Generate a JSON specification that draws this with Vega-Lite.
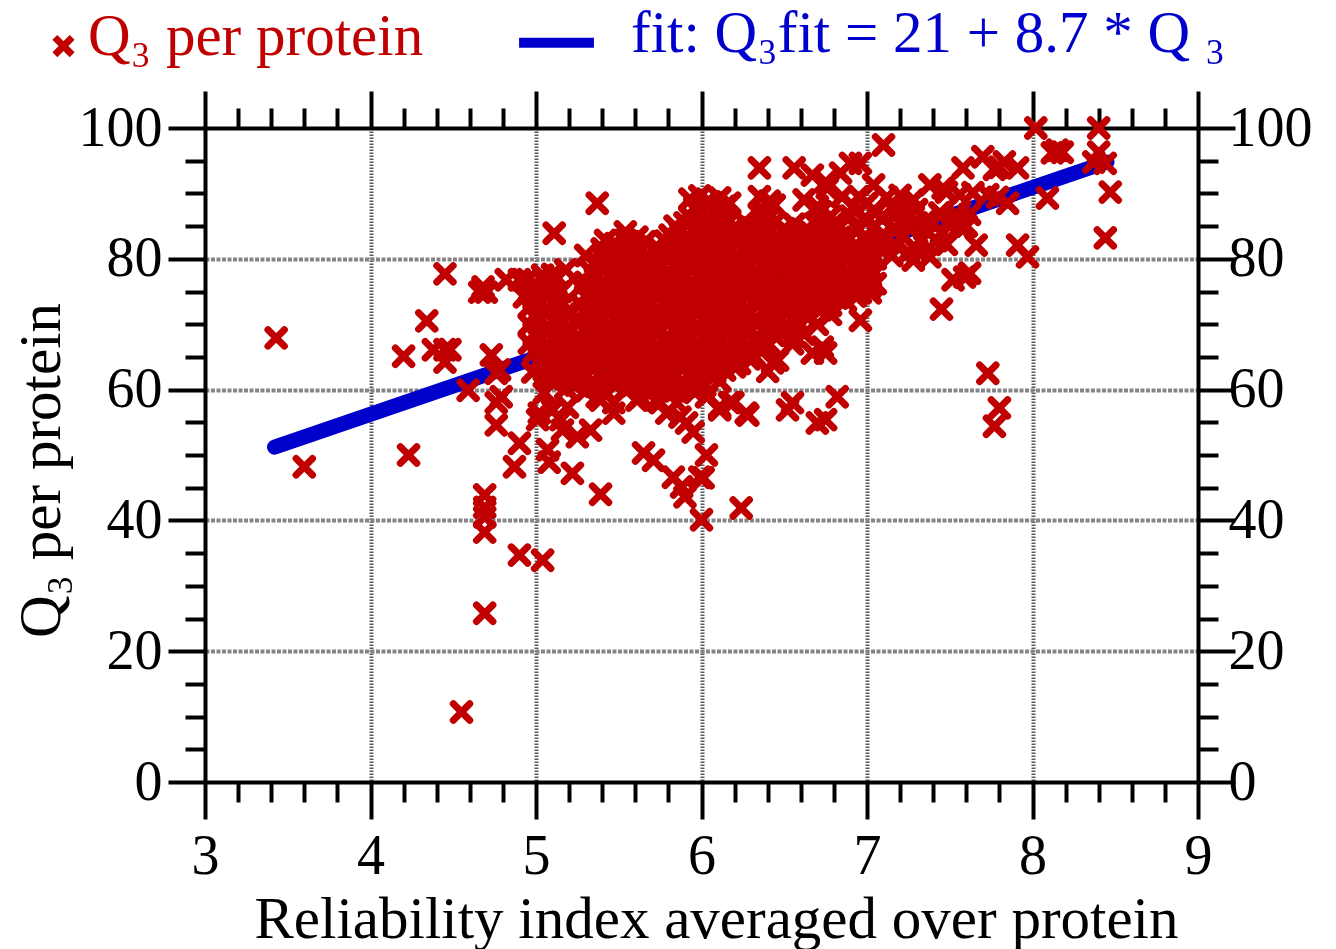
{
  "$schema": "https://vega.github.io/schema/vega-lite/v6.json",
  "autosize": "none",
  "width": 993,
  "height": 654,
  "padding": {"left": 205, "top": 128, "right": 138, "bottom": 167},
  "background": "white",
  "config": {"view": {"stroke": null}, "font": "Liberation Serif"},
  "datasets": {
    "fit": [{"ri": 3.42, "q3": 51.2}, {"ri": 8.45, "q3": 94.8}],
    "pts": [
      {"ri":5.93,"q3":89.1},{"ri":5.99,"q3":89.6},{"ri":6.05,"q3":88.7},{"ri":6.11,"q3":89.3},{"ri":6.17,"q3":88.5},{"ri":6.35,"q3":89.5},{"ri":6.41,"q3":88.8},
      {"ri":5.96,"q3":87.8},{"ri":6.02,"q3":88.3},{"ri":6.08,"q3":87.4},{"ri":6.14,"q3":88.0},{"ri":6.38,"q3":87.2},{"ri":6.44,"q3":88.2},
      {"ri":5.93,"q3":86.4},{"ri":5.99,"q3":86.9},{"ri":6.05,"q3":86.0},{"ri":6.11,"q3":86.6},{"ri":6.17,"q3":85.8},{"ri":6.35,"q3":86.8},{"ri":6.41,"q3":86.3},{"ri":6.72,"q3":87.2},{"ri":6.78,"q3":86.5},
      {"ri":5.84,"q3":85.0},{"ri":5.90,"q3":85.5},{"ri":5.96,"q3":84.6},{"ri":6.02,"q3":85.3},{"ri":6.08,"q3":84.4},{"ri":6.14,"q3":85.4},{"ri":6.20,"q3":84.8},{"ri":6.26,"q3":85.6},{"ri":6.32,"q3":84.7},{"ri":6.38,"q3":85.0},{"ri":6.44,"q3":85.5},{"ri":6.50,"q3":84.6},{"ri":6.56,"q3":85.3},{"ri":6.63,"q3":84.4},{"ri":6.69,"q3":85.4},{"ri":6.75,"q3":84.8},{"ri":6.81,"q3":85.6},
      {"ri":5.81,"q3":83.6},{"ri":5.87,"q3":84.1},{"ri":5.93,"q3":83.2},{"ri":5.99,"q3":83.9},{"ri":6.05,"q3":83.0},{"ri":6.11,"q3":84.0},{"ri":6.17,"q3":83.4},{"ri":6.23,"q3":84.2},{"ri":6.29,"q3":83.3},{"ri":6.35,"q3":83.6},{"ri":6.41,"q3":84.1},{"ri":6.47,"q3":83.2},{"ri":6.53,"q3":83.9},{"ri":6.60,"q3":83.0},{"ri":6.66,"q3":84.0},{"ri":6.72,"q3":83.4},{"ri":6.78,"q3":84.2},{"ri":6.84,"q3":83.3},
      {"ri":5.48,"q3":82.3},{"ri":5.54,"q3":82.8},{"ri":5.60,"q3":81.9},{"ri":5.66,"q3":82.6},{"ri":5.72,"q3":81.7},{"ri":5.78,"q3":82.7},{"ri":5.84,"q3":82.1},{"ri":5.90,"q3":82.9},{"ri":5.96,"q3":82.0},{"ri":6.02,"q3":82.3},{"ri":6.08,"q3":82.8},{"ri":6.14,"q3":81.9},{"ri":6.20,"q3":82.6},{"ri":6.26,"q3":81.7},{"ri":6.32,"q3":82.7},{"ri":6.38,"q3":82.1},{"ri":6.44,"q3":82.9},{"ri":6.50,"q3":82.0},{"ri":6.56,"q3":82.3},{"ri":6.63,"q3":82.8},{"ri":6.69,"q3":81.9},{"ri":6.75,"q3":82.6},{"ri":6.81,"q3":81.7},{"ri":6.87,"q3":82.7},{"ri":6.93,"q3":82.1},
      {"ri":5.45,"q3":80.9},{"ri":5.51,"q3":81.4},{"ri":5.57,"q3":80.5},{"ri":5.63,"q3":81.2},{"ri":5.69,"q3":80.3},{"ri":5.75,"q3":81.3},{"ri":5.81,"q3":80.7},{"ri":5.87,"q3":81.5},{"ri":5.93,"q3":80.6},{"ri":5.99,"q3":80.9},{"ri":6.05,"q3":81.4},{"ri":6.11,"q3":80.5},{"ri":6.17,"q3":81.2},{"ri":6.23,"q3":80.3},{"ri":6.29,"q3":81.3},{"ri":6.35,"q3":80.7},{"ri":6.41,"q3":81.5},{"ri":6.47,"q3":80.6},{"ri":6.53,"q3":80.9},{"ri":6.60,"q3":81.4},{"ri":6.66,"q3":80.5},{"ri":6.72,"q3":81.2},{"ri":6.78,"q3":80.3},{"ri":6.84,"q3":81.3},{"ri":6.90,"q3":80.7},{"ri":6.96,"q3":81.5},{"ri":7.02,"q3":80.6},
      {"ri":5.36,"q3":79.5},{"ri":5.42,"q3":80.0},{"ri":5.48,"q3":79.1},{"ri":5.54,"q3":79.8},{"ri":5.60,"q3":78.9},{"ri":5.66,"q3":79.9},{"ri":5.72,"q3":79.3},{"ri":5.78,"q3":80.1},{"ri":5.84,"q3":79.2},{"ri":5.90,"q3":79.5},{"ri":5.96,"q3":80.0},{"ri":6.02,"q3":79.1},{"ri":6.08,"q3":79.8},{"ri":6.14,"q3":78.9},{"ri":6.20,"q3":79.9},{"ri":6.26,"q3":79.3},{"ri":6.32,"q3":80.1},{"ri":6.38,"q3":79.2},{"ri":6.44,"q3":79.5},{"ri":6.50,"q3":80.0},{"ri":6.56,"q3":79.1},{"ri":6.63,"q3":79.8},{"ri":6.69,"q3":78.9},{"ri":6.75,"q3":79.9},{"ri":6.81,"q3":79.3},{"ri":6.87,"q3":80.1},{"ri":6.93,"q3":79.2},{"ri":6.99,"q3":79.5},{"ri":7.05,"q3":80.0},
      {"ri":5.33,"q3":78.1},{"ri":5.39,"q3":78.6},{"ri":5.45,"q3":77.7},{"ri":5.51,"q3":78.4},{"ri":5.57,"q3":77.5},{"ri":5.63,"q3":78.5},{"ri":5.69,"q3":77.9},{"ri":5.75,"q3":78.7},{"ri":5.81,"q3":77.8},{"ri":5.87,"q3":78.1},{"ri":5.93,"q3":78.6},{"ri":5.99,"q3":77.7},{"ri":6.05,"q3":78.4},{"ri":6.11,"q3":77.5},{"ri":6.17,"q3":78.5},{"ri":6.23,"q3":77.9},{"ri":6.29,"q3":78.7},{"ri":6.35,"q3":77.8},{"ri":6.41,"q3":78.1},{"ri":6.47,"q3":78.6},{"ri":6.53,"q3":77.7},{"ri":6.60,"q3":78.4},{"ri":6.66,"q3":77.5},{"ri":6.72,"q3":78.5},{"ri":6.78,"q3":77.9},{"ri":6.84,"q3":78.7},{"ri":6.90,"q3":77.8},{"ri":6.96,"q3":78.1},{"ri":7.02,"q3":78.6},
      {"ri":5.05,"q3":76.8},{"ri":5.12,"q3":77.3},{"ri":5.30,"q3":76.4},{"ri":5.36,"q3":77.1},{"ri":5.42,"q3":76.2},{"ri":5.48,"q3":77.2},{"ri":5.54,"q3":76.6},{"ri":5.60,"q3":77.4},{"ri":5.66,"q3":76.5},{"ri":5.72,"q3":76.8},{"ri":5.78,"q3":77.3},{"ri":5.84,"q3":76.4},{"ri":5.90,"q3":77.1},{"ri":5.96,"q3":76.2},{"ri":6.02,"q3":77.2},{"ri":6.08,"q3":76.6},{"ri":6.14,"q3":77.4},{"ri":6.20,"q3":76.5},{"ri":6.26,"q3":76.8},{"ri":6.32,"q3":77.3},{"ri":6.38,"q3":76.4},{"ri":6.44,"q3":77.1},{"ri":6.50,"q3":76.2},{"ri":6.56,"q3":77.2},{"ri":6.63,"q3":76.6},{"ri":6.69,"q3":77.4},{"ri":6.75,"q3":76.5},{"ri":6.81,"q3":76.8},{"ri":6.87,"q3":77.3},{"ri":6.93,"q3":76.4},{"ri":6.99,"q3":77.1},{"ri":7.05,"q3":76.2},
      {"ri":5.02,"q3":75.4},{"ri":5.08,"q3":75.9},{"ri":5.15,"q3":75.0},{"ri":5.27,"q3":75.7},{"ri":5.33,"q3":74.8},{"ri":5.39,"q3":75.8},{"ri":5.45,"q3":75.2},{"ri":5.51,"q3":76.0},{"ri":5.57,"q3":75.1},{"ri":5.63,"q3":75.4},{"ri":5.69,"q3":75.9},{"ri":5.75,"q3":75.0},{"ri":5.81,"q3":75.7},{"ri":5.87,"q3":74.8},{"ri":5.93,"q3":75.8},{"ri":5.99,"q3":75.2},{"ri":6.05,"q3":76.0},{"ri":6.11,"q3":75.1},{"ri":6.17,"q3":75.4},{"ri":6.23,"q3":75.9},{"ri":6.29,"q3":75.0},{"ri":6.35,"q3":75.7},{"ri":6.41,"q3":74.8},{"ri":6.47,"q3":75.8},{"ri":6.53,"q3":75.2},{"ri":6.60,"q3":76.0},{"ri":6.66,"q3":75.1},{"ri":6.72,"q3":75.4},{"ri":6.78,"q3":75.9},{"ri":6.84,"q3":75.0},{"ri":6.90,"q3":75.7},{"ri":6.96,"q3":74.8},{"ri":7.02,"q3":75.8},
      {"ri":4.99,"q3":74.0},{"ri":5.05,"q3":74.5},{"ri":5.12,"q3":73.6},{"ri":5.30,"q3":74.3},{"ri":5.36,"q3":73.4},{"ri":5.42,"q3":74.4},{"ri":5.48,"q3":73.8},{"ri":5.54,"q3":74.6},{"ri":5.60,"q3":73.7},{"ri":5.66,"q3":74.0},{"ri":5.72,"q3":74.5},{"ri":5.78,"q3":73.6},{"ri":5.84,"q3":74.3},{"ri":5.90,"q3":73.4},{"ri":5.96,"q3":74.4},{"ri":6.02,"q3":73.8},{"ri":6.08,"q3":74.6},{"ri":6.14,"q3":73.7},{"ri":6.20,"q3":74.0},{"ri":6.26,"q3":74.5},{"ri":6.32,"q3":73.6},{"ri":6.38,"q3":74.3},{"ri":6.44,"q3":73.4},{"ri":6.50,"q3":74.4},{"ri":6.56,"q3":73.8},{"ri":6.63,"q3":74.6},{"ri":6.69,"q3":73.7},{"ri":6.75,"q3":74.0},{"ri":6.81,"q3":74.5},{"ri":6.87,"q3":73.6},{"ri":6.93,"q3":74.3},
      {"ri":4.96,"q3":72.6},{"ri":5.02,"q3":73.1},{"ri":5.08,"q3":72.2},{"ri":5.15,"q3":72.9},{"ri":5.21,"q3":72.0},{"ri":5.27,"q3":73.0},{"ri":5.33,"q3":72.4},{"ri":5.39,"q3":73.2},{"ri":5.45,"q3":72.3},{"ri":5.51,"q3":72.6},{"ri":5.57,"q3":73.1},{"ri":5.63,"q3":72.2},{"ri":5.69,"q3":72.9},{"ri":5.75,"q3":72.0},{"ri":5.81,"q3":73.0},{"ri":5.87,"q3":72.4},{"ri":5.93,"q3":73.2},{"ri":5.99,"q3":72.3},{"ri":6.05,"q3":72.6},{"ri":6.11,"q3":73.1},{"ri":6.17,"q3":72.2},{"ri":6.23,"q3":72.9},{"ri":6.29,"q3":72.0},{"ri":6.35,"q3":73.0},{"ri":6.41,"q3":72.4},{"ri":6.47,"q3":73.2},{"ri":6.53,"q3":72.3},{"ri":6.60,"q3":72.6},{"ri":6.66,"q3":73.1},{"ri":6.72,"q3":72.2},{"ri":6.78,"q3":72.9},
      {"ri":4.99,"q3":71.3},{"ri":5.05,"q3":71.8},{"ri":5.12,"q3":70.9},{"ri":5.18,"q3":71.6},{"ri":5.24,"q3":70.7},{"ri":5.30,"q3":71.7},{"ri":5.36,"q3":71.1},{"ri":5.42,"q3":71.9},{"ri":5.48,"q3":71.0},{"ri":5.54,"q3":71.3},{"ri":5.60,"q3":71.8},{"ri":5.66,"q3":70.9},{"ri":5.72,"q3":71.6},{"ri":5.78,"q3":70.7},{"ri":5.84,"q3":71.7},{"ri":5.90,"q3":71.1},{"ri":5.96,"q3":71.9},{"ri":6.02,"q3":71.0},{"ri":6.08,"q3":71.3},{"ri":6.14,"q3":71.8},{"ri":6.20,"q3":70.9},{"ri":6.26,"q3":71.6},{"ri":6.32,"q3":70.7},{"ri":6.38,"q3":71.7},{"ri":6.44,"q3":71.1},{"ri":6.50,"q3":71.9},{"ri":6.56,"q3":71.0},{"ri":6.63,"q3":71.3},
      {"ri":4.96,"q3":69.9},{"ri":5.02,"q3":70.4},{"ri":5.08,"q3":69.5},{"ri":5.15,"q3":70.2},{"ri":5.21,"q3":69.3},{"ri":5.27,"q3":70.3},{"ri":5.33,"q3":69.7},{"ri":5.39,"q3":70.5},{"ri":5.45,"q3":69.6},{"ri":5.51,"q3":69.9},{"ri":5.57,"q3":70.4},{"ri":5.63,"q3":69.5},{"ri":5.69,"q3":70.2},{"ri":5.75,"q3":69.3},{"ri":5.81,"q3":70.3},{"ri":5.87,"q3":69.7},{"ri":5.93,"q3":70.5},{"ri":5.99,"q3":69.6},{"ri":6.05,"q3":69.9},{"ri":6.11,"q3":70.4},{"ri":6.17,"q3":69.5},{"ri":6.23,"q3":70.2},{"ri":6.29,"q3":69.3},{"ri":6.35,"q3":70.3},{"ri":6.41,"q3":69.7},{"ri":6.47,"q3":70.5},{"ri":6.53,"q3":69.6},{"ri":6.60,"q3":69.9},
      {"ri":4.99,"q3":68.5},{"ri":5.05,"q3":69.0},{"ri":5.12,"q3":68.1},{"ri":5.18,"q3":68.8},{"ri":5.24,"q3":67.9},{"ri":5.30,"q3":68.9},{"ri":5.36,"q3":68.3},{"ri":5.42,"q3":69.1},{"ri":5.48,"q3":68.2},{"ri":5.54,"q3":68.5},{"ri":5.60,"q3":69.0},{"ri":5.66,"q3":68.1},{"ri":5.72,"q3":68.8},{"ri":5.78,"q3":67.9},{"ri":5.84,"q3":68.9},{"ri":5.90,"q3":68.3},{"ri":5.96,"q3":69.1},{"ri":6.02,"q3":68.2},{"ri":6.08,"q3":68.5},{"ri":6.14,"q3":69.0},{"ri":6.20,"q3":68.1},{"ri":6.26,"q3":68.8},{"ri":6.32,"q3":67.9},{"ri":6.38,"q3":68.9},{"ri":6.44,"q3":68.3},{"ri":6.50,"q3":69.1},{"ri":6.56,"q3":68.2},
      {"ri":4.96,"q3":67.1},{"ri":5.02,"q3":67.6},{"ri":5.08,"q3":66.7},{"ri":5.15,"q3":67.4},{"ri":5.21,"q3":66.5},{"ri":5.27,"q3":67.5},{"ri":5.33,"q3":66.9},{"ri":5.39,"q3":67.7},{"ri":5.45,"q3":66.8},{"ri":5.51,"q3":67.1},{"ri":5.57,"q3":67.6},{"ri":5.63,"q3":66.7},{"ri":5.69,"q3":67.4},{"ri":5.75,"q3":66.5},{"ri":5.81,"q3":67.5},{"ri":5.87,"q3":66.9},{"ri":5.93,"q3":67.7},{"ri":5.99,"q3":66.8},{"ri":6.05,"q3":67.1},{"ri":6.11,"q3":67.6},{"ri":6.17,"q3":66.7},{"ri":6.23,"q3":67.4},{"ri":6.29,"q3":66.5},{"ri":6.35,"q3":67.5},{"ri":6.41,"q3":66.9},
      {"ri":4.99,"q3":65.7},{"ri":5.05,"q3":66.2},{"ri":5.12,"q3":65.3},{"ri":5.18,"q3":66.0},{"ri":5.24,"q3":65.1},{"ri":5.30,"q3":66.1},{"ri":5.36,"q3":65.5},{"ri":5.42,"q3":66.3},{"ri":5.48,"q3":65.4},{"ri":5.54,"q3":65.7},{"ri":5.60,"q3":66.2},{"ri":5.66,"q3":65.3},{"ri":5.72,"q3":66.0},{"ri":5.78,"q3":65.1},{"ri":5.84,"q3":66.1},{"ri":5.90,"q3":65.5},{"ri":5.96,"q3":66.3},{"ri":6.02,"q3":65.4},{"ri":6.08,"q3":65.7},{"ri":6.14,"q3":66.2},{"ri":6.20,"q3":65.3},{"ri":6.26,"q3":66.0},{"ri":6.32,"q3":65.1},
      {"ri":5.02,"q3":64.4},{"ri":5.08,"q3":64.9},{"ri":5.15,"q3":64.0},{"ri":5.21,"q3":64.7},{"ri":5.27,"q3":63.8},{"ri":5.33,"q3":64.8},{"ri":5.39,"q3":64.2},{"ri":5.45,"q3":65.0},{"ri":5.51,"q3":64.1},{"ri":5.57,"q3":64.4},{"ri":5.63,"q3":64.9},{"ri":5.69,"q3":64.0},{"ri":5.75,"q3":64.7},{"ri":5.81,"q3":63.8},{"ri":5.87,"q3":64.8},{"ri":5.93,"q3":64.2},{"ri":5.99,"q3":65.0},{"ri":6.05,"q3":64.1},{"ri":6.11,"q3":64.4},{"ri":6.17,"q3":64.9},{"ri":6.23,"q3":64.0},{"ri":6.29,"q3":64.7},
      {"ri":5.05,"q3":63.0},{"ri":5.12,"q3":63.5},{"ri":5.18,"q3":62.6},{"ri":5.24,"q3":63.3},{"ri":5.30,"q3":62.4},{"ri":5.36,"q3":63.4},{"ri":5.42,"q3":62.8},{"ri":5.48,"q3":63.6},{"ri":5.54,"q3":62.7},{"ri":5.60,"q3":63.0},{"ri":5.66,"q3":63.5},{"ri":5.72,"q3":62.6},{"ri":5.78,"q3":63.3},{"ri":5.84,"q3":62.4},{"ri":5.90,"q3":63.4},{"ri":5.96,"q3":62.8},{"ri":6.02,"q3":63.6},{"ri":6.08,"q3":62.7},{"ri":6.14,"q3":63.0},{"ri":6.20,"q3":63.5},
      {"ri":5.08,"q3":61.6},{"ri":5.15,"q3":62.1},{"ri":5.21,"q3":61.2},{"ri":5.27,"q3":61.9},{"ri":5.33,"q3":61.0},{"ri":5.39,"q3":62.0},{"ri":5.45,"q3":61.4},{"ri":5.51,"q3":62.2},{"ri":5.57,"q3":61.3},{"ri":5.63,"q3":61.6},{"ri":5.69,"q3":62.1},{"ri":5.75,"q3":61.2},{"ri":5.81,"q3":61.9},{"ri":5.87,"q3":61.0},{"ri":5.93,"q3":62.0},{"ri":5.99,"q3":61.4},{"ri":6.05,"q3":62.2},{"ri":6.11,"q3":61.3},
      {"ri":5.18,"q3":60.2},{"ri":5.24,"q3":60.7},{"ri":5.30,"q3":59.8},{"ri":5.36,"q3":60.5},{"ri":5.42,"q3":59.6},{"ri":5.48,"q3":60.6},{"ri":5.54,"q3":60.0},{"ri":5.60,"q3":60.8},{"ri":5.66,"q3":59.9},{"ri":5.72,"q3":60.2},{"ri":5.78,"q3":60.7},{"ri":5.84,"q3":59.8},{"ri":5.90,"q3":60.5},{"ri":5.96,"q3":59.6},{"ri":6.02,"q3":60.6},
      {"ri":6.35,"q3":93.9},{"ri":6.56,"q3":93.9},{"ri":6.67,"q3":92.8},{"ri":6.75,"q3":91.7},{"ri":6.84,"q3":93.1},{"ri":6.90,"q3":94.6},{"ri":6.96,"q3":94.6},{"ri":6.76,"q3":90.8},{"ri":7.04,"q3":91.3},{"ri":7.12,"q3":89.4},{"ri":7.20,"q3":89.7},{"ri":7.10,"q3":97.4},{"ri":6.62,"q3":89.0},{"ri":6.70,"q3":88.0},{"ri":6.85,"q3":89.5},{"ri":6.92,"q3":88.0},
      {"ri":5.37,"q3":88.5},{"ri":5.11,"q3":83.9},{"ri":5.54,"q3":84.1},{"ri":5.61,"q3":83.3},{"ri":5.40,"q3":81.5},{"ri":5.42,"q3":82.8},{"ri":5.30,"q3":80.5},{"ri":5.18,"q3":78.3},{"ri":5.10,"q3":77.6},{"ri":5.04,"q3":77.5},{"ri":4.82,"q3":76.8},{"ri":4.90,"q3":76.8},{"ri":4.95,"q3":76.8},{"ri":4.93,"q3":74.2},
      {"ri":7.38,"q3":91.3},{"ri":7.46,"q3":90.8},{"ri":7.48,"q3":90.2},{"ri":7.56,"q3":89.8},{"ri":7.64,"q3":90.1},{"ri":7.73,"q3":89.8},{"ri":7.79,"q3":89.4},{"ri":7.85,"q3":88.5},{"ri":7.58,"q3":93.9},{"ri":7.70,"q3":95.6},{"ri":7.80,"q3":94.0},{"ri":7.91,"q3":93.9},{"ri":7.77,"q3":93.7},{"ri":7.83,"q3":94.8},{"ri":7.66,"q3":82.1},{"ri":7.91,"q3":82.1},{"ri":7.97,"q3":80.3},{"ri":7.59,"q3":77.2},{"ri":7.52,"q3":76.8},{"ri":7.62,"q3":77.8},{"ri":7.45,"q3":72.3},
      {"ri":7.26,"q3":84.9},{"ri":7.36,"q3":85.9},{"ri":7.44,"q3":87.0},{"ri":7.52,"q3":86.4},{"ri":7.56,"q3":84.9},{"ri":7.28,"q3":79.8},{"ri":7.38,"q3":80.3},{"ri":7.30,"q3":81.3},{"ri":7.08,"q3":83.3},{"ri":7.16,"q3":84.4},{"ri":7.00,"q3":79.8},{"ri":7.02,"q3":77.2},{"ri":7.02,"q3":74.8},{"ri":7.28,"q3":89.0},{"ri":7.20,"q3":87.5},
      {"ri":7.00,"q3":88.5},{"ri":7.05,"q3":87.0},{"ri":6.98,"q3":86.0},{"ri":7.10,"q3":86.5},{"ri":7.15,"q3":87.8},{"ri":7.05,"q3":85.0},{"ri":7.12,"q3":83.0},{"ri":7.20,"q3":85.5},{"ri":7.25,"q3":87.0},{"ri":7.22,"q3":83.5},{"ri":6.95,"q3":84.5},{"ri":7.00,"q3":82.5},{"ri":7.08,"q3":81.5},{"ri":7.15,"q3":80.5},{"ri":7.30,"q3":87.5},{"ri":7.35,"q3":84.5},{"ri":7.40,"q3":85.5},{"ri":7.45,"q3":84.0},{"ri":7.50,"q3":85.0},{"ri":7.42,"q3":82.8},{"ri":7.55,"q3":86.5},{"ri":7.60,"q3":85.0},{"ri":7.33,"q3":82.8},{"ri":7.48,"q3":82.2},{"ri":7.62,"q3":86.8},{"ri":7.18,"q3":82.0},{"ri":7.25,"q3":81.0},{"ri":6.90,"q3":86.5},{"ri":6.95,"q3":89.5},
      {"ri":8.02,"q3":100.0},{"ri":8.40,"q3":100.0},{"ri":8.12,"q3":96.2},{"ri":8.18,"q3":96.3},{"ri":8.15,"q3":96.6},{"ri":8.40,"q3":96.3},{"ri":8.37,"q3":94.8},{"ri":8.44,"q3":94.6},{"ri":8.47,"q3":90.2},{"ri":8.09,"q3":89.3},{"ri":8.44,"q3":83.2},{"ri":7.73,"q3":62.5},{"ri":7.80,"q3":57.2},{"ri":7.77,"q3":54.4},
      {"ri":3.43,"q3":67.9},{"ri":3.60,"q3":48.2},{"ri":4.20,"q3":65.1},{"ri":4.23,"q3":50.0},{"ri":4.34,"q3":70.5},{"ri":4.38,"q3":66.1},{"ri":4.45,"q3":66.1},{"ri":4.48,"q3":66.1},{"ri":4.45,"q3":64.2},{"ri":4.45,"q3":77.7},{"ri":4.59,"q3":59.9},{"ri":4.55,"q3":10.7},{"ri":4.68,"q3":75.7},{"ri":4.70,"q3":74.9},{"ri":4.66,"q3":74.9},{"ri":4.73,"q3":65.3},{"ri":4.76,"q3":62.5},{"ri":4.79,"q3":58.9},{"ri":4.76,"q3":58.0},{"ri":4.76,"q3":54.6},{"ri":4.69,"q3":43.9},{"ri":4.69,"q3":42.0},{"ri":4.69,"q3":40.5},{"ri":4.69,"q3":38.2},{"ri":4.69,"q3":25.8},{"ri":4.87,"q3":48.2},{"ri":4.90,"q3":51.8},{"ri":4.90,"q3":34.7},{"ri":5.04,"q3":33.9},{"ri":4.78,"q3":63.0},{"ri":4.98,"q3":62.7},
      {"ri":5.37,"q3":58.9},{"ri":5.47,"q3":58.0},{"ri":5.47,"q3":56.4},{"ri":5.61,"q3":58.4},{"ri":5.75,"q3":58.0},{"ri":5.79,"q3":56.4},{"ri":5.85,"q3":58.0},{"ri":5.87,"q3":55.8},{"ri":5.91,"q3":54.9},{"ri":5.95,"q3":53.5},{"ri":6.03,"q3":58.9},{"ri":6.11,"q3":57.3},{"ri":6.17,"q3":58.0},{"ri":6.27,"q3":56.4},{"ri":6.43,"q3":64.1},{"ri":5.19,"q3":57.3},{"ri":5.15,"q3":55.4},{"ri":5.16,"q3":53.8},{"ri":5.25,"q3":52.8},{"ri":5.33,"q3":53.8},{"ri":5.65,"q3":50.3},{"ri":5.71,"q3":49.2},{"ri":5.22,"q3":47.2},{"ri":5.83,"q3":46.6},{"ri":5.99,"q3":46.6},{"ri":6.03,"q3":50.0},{"ri":5.39,"q3":44.0},{"ri":5.88,"q3":45.1},{"ri":5.90,"q3":43.6},{"ri":6.00,"q3":40.1},{"ri":6.24,"q3":41.9},{"ri":5.07,"q3":50.8},{"ri":5.08,"q3":48.9},{"ri":5.02,"q3":56.4},{"ri":5.01,"q3":55.4},{"ri":5.10,"q3":56.9},{"ri":5.39,"q3":58.4},{"ri":5.63,"q3":58.9},{"ri":5.73,"q3":58.4},{"ri":5.05,"q3":59.5},
      {"ri":6.55,"q3":58.0},{"ri":6.52,"q3":56.9},{"ri":6.70,"q3":54.9},{"ri":6.75,"q3":55.4},{"ri":6.28,"q3":56.1},{"ri":6.19,"q3":58.0},{"ri":6.11,"q3":56.9},{"ri":6.46,"q3":64.5},{"ri":6.73,"q3":66.5},{"ri":6.67,"q3":65.6},{"ri":6.75,"q3":65.6},{"ri":6.82,"q3":58.9},{"ri":6.82,"q3":74.0},{"ri":6.70,"q3":73.2},{"ri":6.96,"q3":70.6},{"ri":6.01,"q3":46.5},{"ri":6.40,"q3":62.8},{"ri":6.55,"q3":67.0},{"ri":6.62,"q3":68.5},{"ri":6.70,"q3":70.0},{"ri":6.78,"q3":71.5}
    ]
  },
  "layer": [
    {
      "data": {"name": "fit"},
      "mark": {"type": "line", "strokeWidth": 15, "strokeCap": "round"},
      "encoding": {
        "x": {
          "field": "ri", "type": "quantitative",
          "scale": {"domain": [3, 9], "nice": false, "zero": false},
          "axis": {
            "orient": "bottom",
            "values": [3,3.2,3.4,3.6,3.8,4,4.2,4.4,4.6,4.8,5,5.2,5.4,5.6,5.8,6,6.2,6.4,6.6,6.8,7,7.2,7.4,7.6,7.8,8,8.2,8.4,8.6,8.8,9],
            "labelExpr": "datum.value % 1 === 0 ? '' + datum.value : ''",
            "tickSize": {"condition": {"test": "datum.value % 1 === 0", "value": 37}, "value": 20},
            "tickWidth": 4, "tickColor": "black",
            "domainWidth": 4, "domainColor": "black",
            "grid": true, "gridColor": "#5a5a5a", "gridWidth": 4, "gridDash": [1.5, 1.5],
            "gridOpacity": {"condition": {"test": "datum.value % 1 === 0 && datum.value > 3 && datum.value < 9", "value": 1}, "value": 0},
            "labelFont": "Liberation Serif", "labelFontSize": 56, "labelColor": "black",
            "labelPadding": 10, "labelOverlap": false, "labelFlush": false,
            "title": "Reliability index averaged over protein",
            "titleFont": "Liberation Serif", "titleFontSize": 59, "titleFontWeight": "normal", "titleColor": "black",
            "titleX": 511, "titleY": 155, "titleBaseline": "alphabetic", "titleAlign": "center"
          }
        },
        "y": {
          "field": "q3", "type": "quantitative",
          "scale": {"domain": [0, 100], "nice": false, "zero": false},
          "axis": {
            "orient": "left",
            "values": [0,5,10,15,20,25,30,35,40,45,50,55,60,65,70,75,80,85,90,95,100],
            "labelExpr": "datum.value % 20 === 0 ? '' + datum.value : ''",
            "tickSize": {"condition": {"test": "datum.value % 20 === 0", "value": 37}, "value": 20},
            "tickWidth": 4, "tickColor": "black",
            "domainWidth": 4, "domainColor": "black",
            "grid": true, "gridColor": "#858585", "gridWidth": 4, "gridDash": [4, 1.5],
            "gridOpacity": {"condition": {"test": "datum.value % 20 === 0 && datum.value > 0 && datum.value < 100", "value": 1}, "value": 0},
            "labelFont": "Liberation Serif", "labelFontSize": 56, "labelColor": "black",
            "labelPadding": 6, "labelOverlap": false, "labelFlush": false,
            "title": "Q₃ per protein",
            "titleFont": "Liberation Serif", "titleFontSize": 59, "titleFontWeight": "normal", "titleColor": "black",
            "titleX": -146, "titleY": 342, "titleBaseline": "alphabetic", "titleAlign": "center", "titleAngle": 270
          }
        },
        "color": {
          "datum": "fit: Q₃fit = 21 + 8.7 * Q ₃", "type": "nominal",
          "scale": {"range": ["#0000cc"]},
          "legend": {
            "orient": "none", "legendX": 309, "legendY": -137, "title": null, "padding": 0,
            "symbolType": "M-1,0.25L1,0.25", "symbolSize": 5600, "symbolStrokeWidth": 10, "symbolStrokeColor": "#0000cc",
            "labelFont": "Liberation Serif", "labelFontSize": 59, "labelColor": "#0000cc", "labelLimit": 0, "labelOffset": 32
          }
        }
      }
    },
    {
      "data": {"name": "pts"},
      "mark": {"type": "point", "shape": "M-1,-1L1,1M-1,1L1,-1", "filled": false, "size": 270, "strokeWidth": 7, "strokeCap": "round", "opacity": 1},
      "encoding": {
        "x": {
          "field": "ri", "type": "quantitative",
          "scale": {"domain": [3, 9], "nice": false, "zero": false},
          "axis": {
            "orient": "top",
            "values": [3,3.2,3.4,3.6,3.8,4,4.2,4.4,4.6,4.8,5,5.2,5.4,5.6,5.8,6,6.2,6.4,6.6,6.8,7,7.2,7.4,7.6,7.8,8,8.2,8.4,8.6,8.8,9],
            "labels": false,
            "tickSize": {"condition": {"test": "datum.value % 1 === 0", "value": 37}, "value": 20},
            "tickWidth": 4, "tickColor": "black",
            "domainWidth": 4, "domainColor": "black",
            "grid": false, "title": null
          }
        },
        "y": {
          "field": "q3", "type": "quantitative",
          "scale": {"domain": [0, 100], "nice": false, "zero": false},
          "axis": {
            "orient": "right",
            "values": [0,5,10,15,20,25,30,35,40,45,50,55,60,65,70,75,80,85,90,95,100],
            "labelExpr": "datum.value % 20 === 0 ? '' + datum.value : ''",
            "tickSize": {"condition": {"test": "datum.value % 20 === 0", "value": 37}, "value": 20},
            "tickWidth": 4, "tickColor": "black",
            "domainWidth": 4, "domainColor": "black",
            "grid": false, "title": null,
            "labelFont": "Liberation Serif", "labelFontSize": 56, "labelColor": "black",
            "labelPadding": -7, "labelOverlap": false, "labelFlush": false
          }
        },
        "color": {
          "datum": "Q₃ per protein", "type": "nominal",
          "scale": {"range": ["#c00000"]},
          "legend": {
            "orient": "none", "legendX": -171, "legendY": -121, "title": null, "padding": 0,
            "symbolType": "M-1,0.1L1,2.1M-1,2.1L1,0.1", "symbolSize": 300, "symbolStrokeWidth": 7, "symbolStrokeColor": "#c00000",
            "labelFont": "Liberation Serif", "labelFontSize": 59, "labelColor": "#c00000", "labelLimit": 0, "labelOffset": -5
          }
        }
      }
    }
  ],
  "resolve": {
    "scale": {"color": "independent"},
    "axis": {"x": "independent", "y": "independent"},
    "legend": {"color": "independent"}
  }
}
